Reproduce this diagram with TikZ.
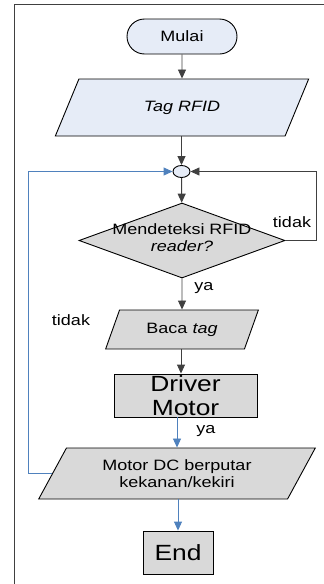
\documentclass[tikz,border=0pt]{standalone}
\usepackage{fontspec}
\setmainfont{Liberation Sans}[FakeStretch=1.2]
\usetikzlibrary{shapes.geometric,shapes.misc,arrows.meta}
\definecolor{lblue}{HTML}{E6ECF7}
\definecolor{lgray}{HTML}{D9D9D9}
\definecolor{oblue}{HTML}{4F81BD}
\definecolor{dline}{HTML}{404040}
\begin{document}
\begin{tikzpicture}[x=1pt,y=-1pt,
  font=\fontsize{15}{17}\selectfont,
  base/.style={draw=black,line width=0.9pt,inner sep=0pt,align=center},
  term/.style={base,rounded rectangle,fill=lblue,minimum width=110,minimum height=35},
  io/.style={base,trapezium,trapezium stretches=true,minimum width=#1},
  boxnode/.style={base,rectangle,fill=lgray,font=\fontsize{22}{25}\selectfont},
  arr/.style={draw=dline,line width=0.9pt,-{Triangle[length=9pt,width=8pt]}},
  barr/.style={draw=oblue,line width=0.9pt,-{Triangle[length=9pt,width=8pt]}},
  lbl/.style={inner sep=0pt}]
\useasboundingbox (0,0) rectangle (324,584);
\draw[dline,line width=1.2pt] (14.5,584) -- (14.5,4.5) -- (324,4.5);
\node[term] (mulai) at (182,36.5) {Mulai};
\node[io=255,fill=lblue,minimum height=57,trapezium left angle=57,trapezium right angle=123] (tag) at (182,107.5) {\itshape Tag RFID};
\node[base,ellipse,fill=lblue,minimum width=17,minimum height=12] (jn) at (181.5,171.5) {};
\node[base,diamond,fill=lgray,minimum width=206,minimum height=75,aspect=2.75] (dec) at (182,240.5) {};
\node[lbl,align=center] (dect) at (182,238) {Mendeteksi RFID\\\itshape reader?};
\node[io=153,fill=lgray,minimum height=39,trapezium left angle=59.5,trapezium right angle=120.5] (baca) at (182,329.5) {Baca \itshape tag};
\node[boxnode,minimum width=143,minimum height=43] (drv) at (185.5,395.5) {Driver\\[-1pt]Motor};
\node[io=277,fill=lgray,minimum height=51,trapezium left angle=56.3,trapezium right angle=123.7] (mdc) at (177,473.5) {Motor DC berputar\\kekanan/kekiri};
\node[boxnode,minimum width=70,minimum height=43] (end) at (178,552.5) {End};
\node[lbl] (t1) at (292,222) {tidak};
\node[lbl] (y1) at (204,288) {ya};
\node[lbl] (t2) at (71,320) {tidak};
\node[lbl] (y2) at (206,431) {ya};
\draw[arr] (mulai) -- (tag);
\draw[arr] (tag.south -| jn.north) -- (jn.north);
\draw[arr] (jn) -- (dec);
\draw[arr] (dec.east) -- ++(31,0) |- (jn.east);
\draw[arr] (dec.south) -- (baca.north);
\draw[arr] (baca.south -| 181,0) -- (drv.north -| 181,0);
\draw[barr] (mdc.north |- drv.south) -- (mdc.north);
\draw[barr] (mdc.south -| end.north) -- (end.north);
\draw[barr] (mdc.west) -- ++(-24,0) |- (jn.west);
\end{tikzpicture}
\end{document}
